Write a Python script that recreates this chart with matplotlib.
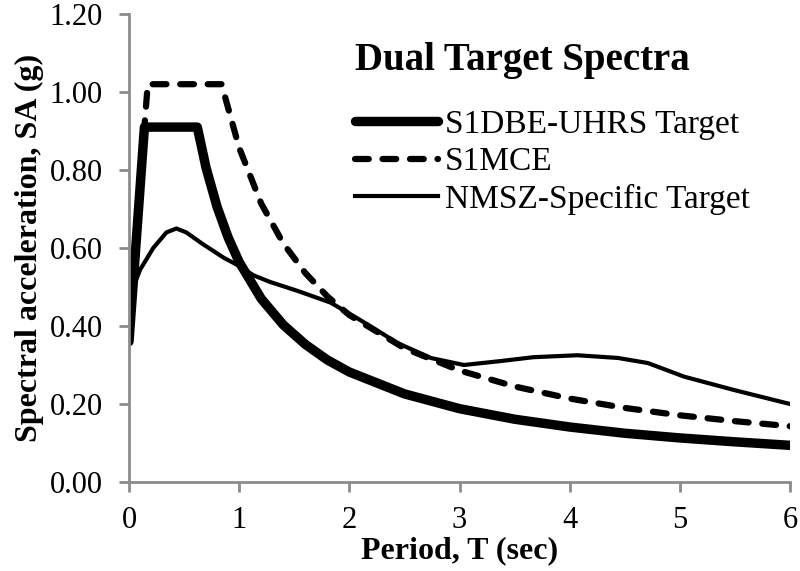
import matplotlib
matplotlib.use("Agg")
import matplotlib.pyplot as plt

# Data
t_dbe = [0.0, 0.14, 0.62, 0.7, 0.8, 0.9, 1.0, 1.2, 1.4, 1.6, 1.8, 2.0, 2.5, 3.0, 3.5, 4.0, 4.5, 5.0, 5.5, 6.0]
sa_dbe = [0.36, 0.91, 0.91, 0.805, 0.705, 0.627, 0.564, 0.47, 0.403, 0.353, 0.313, 0.282, 0.226, 0.188, 0.161, 0.141, 0.125, 0.113, 0.103, 0.094]

t_mce = [0.0, 0.17, 0.84, 1.0, 1.2, 1.4, 1.6, 1.8, 2.0, 2.5, 3.0, 3.5, 4.0, 4.5, 5.0, 5.5, 6.0]
sa_mce = [0.40, 1.02, 1.02, 0.857, 0.714, 0.612, 0.536, 0.476, 0.428, 0.343, 0.286, 0.245, 0.214, 0.19, 0.171, 0.156, 0.143]

t_nmsz = [0.0, 0.04, 0.1, 0.22, 0.34, 0.43, 0.52, 0.67, 0.86, 0.98, 1.13, 1.28, 1.53, 1.83, 2.13, 2.44, 2.74, 3.04, 3.37, 3.67, 4.07, 4.44, 4.71, 5.04, 5.49, 6.0]
sa_nmsz = [0.36, 0.50, 0.544, 0.60, 0.64, 0.65, 0.64, 0.61, 0.575, 0.557, 0.53, 0.513, 0.49, 0.46, 0.41, 0.356, 0.318, 0.30, 0.31, 0.32, 0.325, 0.318, 0.305, 0.27, 0.236, 0.20]

labels = ["S1DBE-UHRS Target", "S1MCE", "NMSZ-Specific Target"]
x_ticks = [0, 1, 2, 3, 4, 5, 6]
y_ticks = [0.0, 0.2, 0.4, 0.6, 0.8, 1.0, 1.2]

plt.rcParams['font.family'] = ['Liberation Serif', 'DejaVu Serif']

fig = plt.figure(figsize=(8, 5.71), dpi=100)
ax = fig.add_axes([129/800, 1 - 482/571, (790-129)/800, (482-14)/571])

ax.plot(t_dbe, sa_dbe, color='black', lw=6.8, solid_joinstyle='round', solid_capstyle='round', label=labels[0])
ax.plot(t_mce, sa_mce, color='black', lw=4.5, linestyle=(0, (2.2, 2.2)), dash_capstyle='round', dash_joinstyle='round', label=labels[1])
ax.plot(t_nmsz, sa_nmsz, color='black', lw=3, solid_joinstyle='round', label=labels[2])

ax.set_xlim(0, 6)
ax.set_ylim(0, 1.2)
ax.set_xticks(x_ticks)
ax.set_xticklabels([str(v) for v in x_ticks])
ax.set_yticks(y_ticks)
ax.set_yticklabels([f"{v:.2f}" for v in y_ticks])

for s in ['top', 'right']:
    ax.spines[s].set_visible(False)
for s in ['left', 'bottom']:
    ax.spines[s].set_color('#8c8c8c')
    ax.spines[s].set_linewidth(2)
ax.tick_params(axis='both', direction='out', length=7, width=2, color='#8c8c8c', labelsize=22, labelcolor='black')
ax.tick_params(axis='x', pad=10)
ax.tick_params(axis='y', pad=12)

ax.set_xlabel("Period, T (sec)", fontsize=23, fontweight='bold', labelpad=1)
ax.set_ylabel("Spectral acceleration, SA (g)", fontsize=23, fontweight='bold', labelpad=4)

leg = ax.legend(loc='upper left', bbox_to_anchor=(0.342, 0.94), frameon=False,
                fontsize=24, handlelength=2.5, handletextpad=0.2, labelspacing=0.2,
                title="Dual Target Spectra", title_fontproperties={'weight': 'bold', 'size': 28},
                alignment='left', borderaxespad=0, borderpad=0)
leg._legend_box.sep = 22

fig.savefig("out.png", dpi=100)
